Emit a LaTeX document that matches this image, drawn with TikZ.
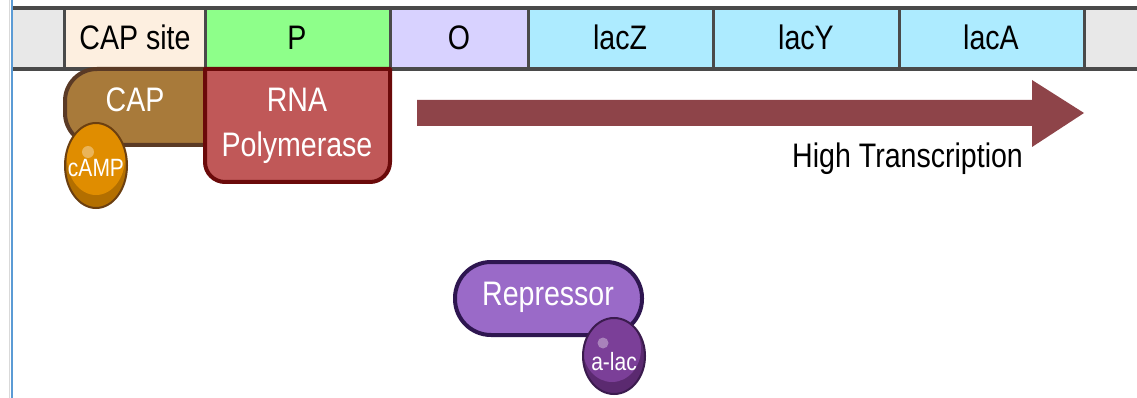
\documentclass[tikz,border=0pt]{standalone}
\usepackage{fontspec}
\setmainfont{Liberation Sans}[FakeStretch=0.84]
\definecolor{linegray}{HTML}{4A4A4A}
\definecolor{cellgray}{HTML}{E8E8E8}
\definecolor{capsitecol}{HTML}{FDEFE0}
\definecolor{promcol}{HTML}{8EFF8A}
\definecolor{opcol}{HTML}{D8D2FF}
\definecolor{genecol}{HTML}{ADEBFF}
\definecolor{frameblue}{HTML}{5B9BD5}
\definecolor{capfill}{HTML}{A87A3A}
\definecolor{capline}{HTML}{5A3A25}
\definecolor{polfill}{HTML}{C05858}
\definecolor{polline}{HTML}{6B0A0A}
\definecolor{arrowcol}{HTML}{8E4449}
\definecolor{repfill}{HTML}{9A6AC8}
\definecolor{repline}{HTML}{2E1650}
\definecolor{campfill}{HTML}{E08D00}
\definecolor{campdark}{HTML}{B36F00}
\definecolor{campline}{HTML}{6B3F10}
\definecolor{lacfill}{HTML}{7B3F98}
\definecolor{lacdark}{HTML}{5B2A70}
\definecolor{lacline}{HTML}{3B1B4E}
\begin{document}
\begin{tikzpicture}[x=1pt,y=-1pt,
  barlabel/.style={anchor=base,inner sep=0pt,font=\fontsize{34}{40}\selectfont,text=black},
  protlabel/.style={anchor=base,inner sep=0pt,font=\fontsize{34}{40}\selectfont,text=white},
  smalllabel/.style={anchor=base,inner sep=0pt,font=\fontsize{25}{30}\selectfont,text=white},
  gridline/.style={draw=linegray,line width=3pt}]
\useasboundingbox (0,0) rectangle (1137,398);
\fill[white] (0,0) rectangle (1137,398);

% gene map cells
\fill[cellgray]   (12,8)  rectangle (64,69);
\fill[capsitecol] (64,8)  rectangle (205,69);
\fill[promcol]    (205,8) rectangle (390,69);
\fill[opcol]      (390,8) rectangle (528,69);
\fill[genecol]    (528,8) rectangle (1084,69);
\fill[cellgray]   (1084,8) rectangle (1137,69);
\foreach \xx in {64,205,390,528,713,899,1084}
  \draw[gridline] (\xx,8) -- (\xx,69);
\draw[linegray,line width=3.5pt] (12,8) -- (1137,8);
\draw[linegray,line width=3.5pt] (12,69) -- (1137,69);

% frame edge on the left
\draw[black!15,line width=1pt] (9.5,0) -- (9.5,398);
\draw[frameblue,line width=2pt] (12,0) -- (12,398);

\node[barlabel] (capsite) at (135,50) {CAP site};
\node[barlabel] (prom) at (297,50) {P};
\node[barlabel] (oper) at (459,50) {O};
\node[barlabel] (lacz) at (620,50) {lacZ};
\node[barlabel] (lacy) at (806,50) {lacY};
\node[barlabel] (laca) at (991,50) {lacA};

% CAP protein
\draw[fill=capfill,draw=capline,line width=4pt,line join=round]
  (205,69) -- (97,69) arc[start angle=270,end angle=180,radius=32]
  -- (65,113) arc[start angle=180,end angle=90,radius=32]
  -- (205,145) -- cycle;
\node[protlabel] (cap) at (135,112) {CAP};

% cAMP bound to CAP
\begin{scope}
  \clip (96,165.5) ellipse[x radius=31,y radius=42.5];
  \fill[campdark] (96,165.5) ellipse[x radius=31,y radius=42.5];
  \fill[campfill] (96,158) ellipse[x radius=29,y radius=37];
\end{scope}
\draw[campline,line width=2pt] (96,165.5) ellipse[x radius=31,y radius=42.5];
\fill[white,opacity=0.35] (88,152) circle[radius=6];
\node[smalllabel] (camp) at (96,177) {cAMP};

% RNA polymerase
\draw[fill=polfill,draw=polline,line width=4pt,line join=round]
  (205,69) -- (205,162) arc[start angle=180,end angle=90,radius=20]
  -- (370,182) arc[start angle=90,end angle=0,radius=20]
  -- (390,69) -- cycle;
\node[protlabel] (rna) at (297,112) {RNA};
\node[protlabel] (pol) at (297,157) {Polymerase};

% transcription arrow
\fill[arrowcol] (417,100) -- (1032,100) -- (1032,80) -- (1084,113)
  -- (1032,147) -- (1032,126) -- (417,126) -- cycle;
\node[barlabel,anchor=base west] (hightx) at (792,168) {High Transcription};

% repressor with allolactose
\draw[fill=repfill,draw=repline,line width=4pt,rounded corners=36]
  (455,262) rectangle (642,335);
\node[protlabel] (rep) at (548,305) {Repressor};
\begin{scope}
  \clip (614,356) ellipse[x radius=31,y radius=38];
  \fill[lacdark] (614,356) ellipse[x radius=31,y radius=38];
  \fill[lacfill] (612,349) ellipse[x radius=29,y radius=33];
\end{scope}
\draw[lacline,line width=2pt] (614,356) ellipse[x radius=31,y radius=38];
\fill[white,opacity=0.35] (603,343) circle[radius=5.5];
\node[smalllabel] (alac) at (614,370) {a-lac};
\end{tikzpicture}
\end{document}
